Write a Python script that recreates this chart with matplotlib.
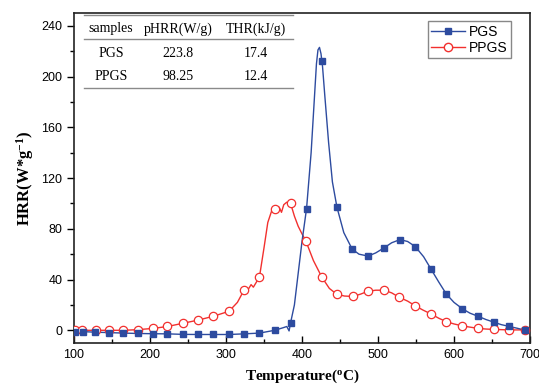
import matplotlib.pyplot as plt
from matplotlib.lines import Line2D
from matplotlib.ticker import MultipleLocator

# PGS curve (temperature in C, HRR in W/g)
pgs_line_t = [100, 101, 111, 128, 146, 165, 184, 204, 223, 243, 263, 283, 304, 324, 344,
              364, 375, 380, 383, 385, 390, 395, 400, 406, 412, 416, 419, 421, 423, 425,
              427, 430, 435, 440, 446, 455, 466, 475, 487, 497, 508, 518, 529, 539, 549,
              560, 570, 580, 590, 600, 611, 621, 632, 642, 652, 662, 673, 684, 694, 700]
pgs_line_hrr = [-1, -1, -1, -1.5, -1.8, -2.2, -2.5, -2.7, -2.8, -3.2, -3.3, -3.3, -3.3, -2.8, -2.2,
                0, 2, 3, -0.5, 6, 20, 45, 70, 96, 140, 180, 210, 221, 223, 218,
                208, 185, 148, 117, 97, 77, 64, 60, 58.5, 61, 65, 69, 71.5, 70, 66,
                58, 48, 38, 28.5, 22, 17, 13.5, 11, 8.5, 6.5, 4.5, 3, 1.5, 0, -0.3]
pgs_mark_t = [101, 112, 128, 146, 165, 184, 204, 223, 243, 263, 283, 304, 324, 344, 364,
              385, 406, 426, 446, 466, 487, 508, 529, 549, 570, 590, 611, 632, 652, 673, 694]
pgs_mark_hrr = [-1, -1, -1.5, -1.8, -2.2, -2.5, -2.7, -2.8, -3.2, -3.3, -3.3, -3.3, -2.8, -2.2, 0,
                6, 96, 212.5, 97, 64, 58.5, 65, 71.5, 66, 48, 28.5, 17, 11, 6.5, 3, 0]

# PPGS curve
ppgs_line_t = [100, 101.5, 111, 129, 146, 165, 184, 204, 223, 243, 263, 283, 304, 315, 324,
               330, 333, 336, 340, 344, 350, 355, 360, 365, 370, 373, 376, 380, 385, 390,
               395, 400, 405, 415, 426, 436, 446, 456, 467, 477, 487, 497, 508, 518, 528,
               539, 549, 559, 570, 580, 590, 600, 611, 621, 632, 642, 652, 663, 673, 684,
               694, 700]
ppgs_line_hrr = [-7, 0, 0, 0, 0, 0, 0.5, 1.5, 3, 5.5, 8, 11, 15, 22, 32,
                 33, 36, 34, 38, 42, 65, 85, 94, 96, 97, 93, 99, 101, 100, 90,
                 82, 76, 70.5, 55, 42, 33, 28.3, 27, 26.7, 28.5, 30.8, 31.6, 31.6, 29.5, 26,
                 23, 19.3, 16, 12.8, 9.5, 6.8, 5, 3.5, 2.5, 1.5, 1, 0.7, 0.5, 0.3, 0.3,
                 0.3, 0.3]
ppgs_mark_t = [101, 111, 129, 146, 165, 184, 204, 223, 243, 263, 283, 304, 324, 344, 365,
               385, 405, 426, 446, 467, 487, 508, 528, 549, 570, 590, 611, 632, 652, 673, 694]
ppgs_mark_hrr = [0, 0, 0, 0, 0, 0.5, 1.5, 3, 5.5, 8, 11, 15, 32, 42, 96,
                 100, 70.5, 42, 28.3, 26.7, 30.8, 31.6, 26, 19.3, 12.8, 6.8, 3.5, 1.5, 0.7, 0.3, 0.3]

table_header = ["samples", "pHRR(W/g)", "THR(kJ/g)"]
table_rows = [["PGS", "223.8", "17.4"],
              ["PPGS", "98.25", "12.4"]]

blue = "#2D4B9F"
red = "#F2302E"

fig = plt.figure(figsize=(5.39, 3.84), dpi=100)
ax = fig.add_axes([0.1373, 0.1068, 0.846, 0.859])

ax.plot(pgs_line_t, pgs_line_hrr, color=blue, lw=1.0, zorder=3)
ax.plot(pgs_mark_t, pgs_mark_hrr, ls="none", marker="s", ms=5, color=blue,
        mec=blue, zorder=4)
ax.plot(ppgs_line_t, ppgs_line_hrr, color=red, lw=1.0, zorder=2)
ax.plot(ppgs_mark_t, ppgs_mark_hrr, ls="none", marker="o", ms=6, mfc="white",
        mec=red, mew=0.9, zorder=3)

ax.set_xlim(100, 700)
ax.set_ylim(-10, 250)
ax.xaxis.set_major_locator(MultipleLocator(100))
ax.xaxis.set_minor_locator(MultipleLocator(50))
ax.yaxis.set_major_locator(MultipleLocator(40))
ax.yaxis.set_minor_locator(MultipleLocator(20))
ax.tick_params(axis="x", which="both", direction="in", top=False, pad=4)
ax.tick_params(axis="y", which="both", direction="out", right=False)
ax.tick_params(which="major", length=5, width=1)
ax.tick_params(which="minor", length=3, width=1)
for lab in ax.get_xticklabels() + ax.get_yticklabels():
    lab.set_family("Liberation Sans")
    lab.set_fontsize(9)
for s in ax.spines.values():
    s.set_linewidth(1.2)
    s.set_color("#222222")

ax.set_xlabel("Temperature($\\mathregular{^o}$C)", family="Liberation Serif",
              fontweight="bold", fontsize=11, labelpad=5)
ax.set_ylabel("HRR(W*g$\\mathregular{^{-1}}$)", family="Liberation Serif",
              fontweight="bold", fontsize=12, labelpad=4)

# summary table in the upper left
col_x = [0.081, 0.228, 0.399]
row_y = [0.952, 0.879, 0.809]
for x, txt in zip(col_x, table_header):
    ax.text(x, row_y[0], txt, transform=ax.transAxes, ha="center", va="center",
            family="Liberation Serif", fontsize=10)
for r, row in enumerate(table_rows):
    for x, txt in zip(col_x, row):
        ax.text(x, row_y[r + 1], txt, transform=ax.transAxes, ha="center",
                va="center", family="Liberation Serif", fontsize=10)
for y in [0.994, 0.921, 0.773]:
    ax.plot([0.022, 0.480], [y, y], transform=ax.transAxes, color="#8a8a8a",
            lw=1.0, clip_on=False)

handles = [Line2D([], [], color=blue, lw=1.0, marker="s", ms=5),
           Line2D([], [], color=red, lw=1.0, marker="o", ms=6, mfc="white", mec=red)]
leg = ax.legend(handles, ["PGS", "PPGS"], loc="upper right",
                bbox_to_anchor=(0.958, 0.976), prop={"family": "Liberation Sans", "size": 10},
                handlelength=2.4, handletextpad=0.3, borderpad=0.25, labelspacing=0.15,
                borderaxespad=0, fancybox=False, framealpha=1)
leg.get_frame().set_edgecolor("#888888")
leg.get_frame().set_linewidth(1.0)

fig.savefig("out.png", dpi=100)
